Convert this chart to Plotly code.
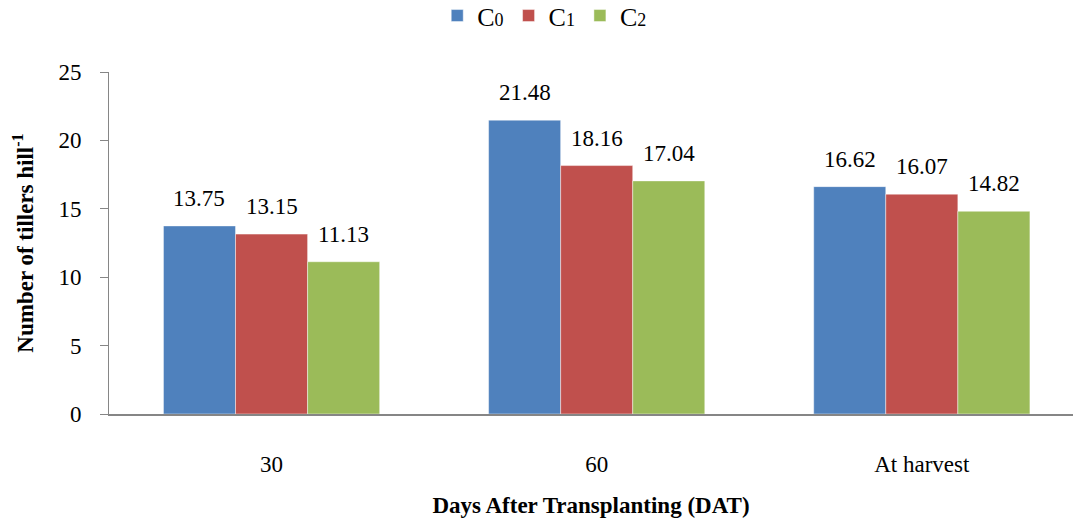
import plotly.graph_objects as go

# Tillers per hill at three sampling dates for three treatments
stages = ["30", "60", "At harvest"]
series_names = ["C0", "C1", "C2"]
c0_values = [13.75, 21.48, 16.62]
c1_values = [13.15, 18.16, 16.07]
c2_values = [11.13, 17.04, 14.82]
y_ticks = [0, 5, 10, 15, 20, 25]

colors = ["#4F81BD", "#C0504D", "#9BBB59"]
FONT = "Liberation Serif"
BARGAP = 0.335


def legend_label(name):
    # letter at full size, treatment number drawn smaller like old-style figures
    return f"{name[0]}<span style='font-size:18px'>{name[1:]}</span>"


positions = list(range(len(stages)))
all_series = [c0_values, c1_values, c2_values]

fig = go.Figure()
for name, vals, col in zip(series_names, all_series, colors):
    fig.add_trace(go.Bar(
        x=positions, y=vals, name=legend_label(name),
        marker=dict(color=col, line=dict(color="rgba(255,255,255,0.45)", width=1)),
    ))

# value labels centred over each bar
bar_w = (1 - BARGAP) / len(all_series)
for i, vals in enumerate(all_series):
    offset = (i - (len(all_series) - 1) / 2) * bar_w
    for p, v in zip(positions, vals):
        fig.add_annotation(
            x=p + offset, y=v, text=f"{v:.2f}", showarrow=False,
            yanchor="bottom", yshift=13,
            font=dict(family=FONT, size=23, color="#000000"),
        )

fig.update_layout(
    width=1073, height=522,
    margin=dict(l=109, r=0, t=72, b=108),
    paper_bgcolor="white", plot_bgcolor="white",
    barmode="group", bargap=BARGAP, bargroupgap=0,
    font=dict(family=FONT, size=23, color="#000000"),
    legend=dict(
        orientation="h", x=0.452, xanchor="center",
        yref="container", y=0.97, yanchor="middle",
        font=dict(family=FONT, size=26), itemwidth=30, traceorder="normal",
    ),
    xaxis=dict(
        tickvals=positions, ticktext=stages, range=[-0.5, 2.465],
        showline=True, linecolor="#868686", linewidth=2, ticks="",
        ticklabelstandoff=28, showgrid=False, zeroline=False,
        title=dict(text="<b>Days After Transplanting (DAT)</b>", standoff=21,
                   font=dict(family=FONT, size=23)),
    ),
    yaxis=dict(
        range=[0, 25], tickvals=y_ticks, showline=True, linecolor="#868686",
        linewidth=1, ticks="outside", ticklen=8, tickcolor="#868686",
        ticklabelstandoff=14, showgrid=False, zeroline=False,
        title=dict(text="<b>Number of tillers hill<sup>-1</sup></b>", standoff=18,
                   font=dict(family=FONT, size=23)),
    ),
)

fig.write_html("out.html")
